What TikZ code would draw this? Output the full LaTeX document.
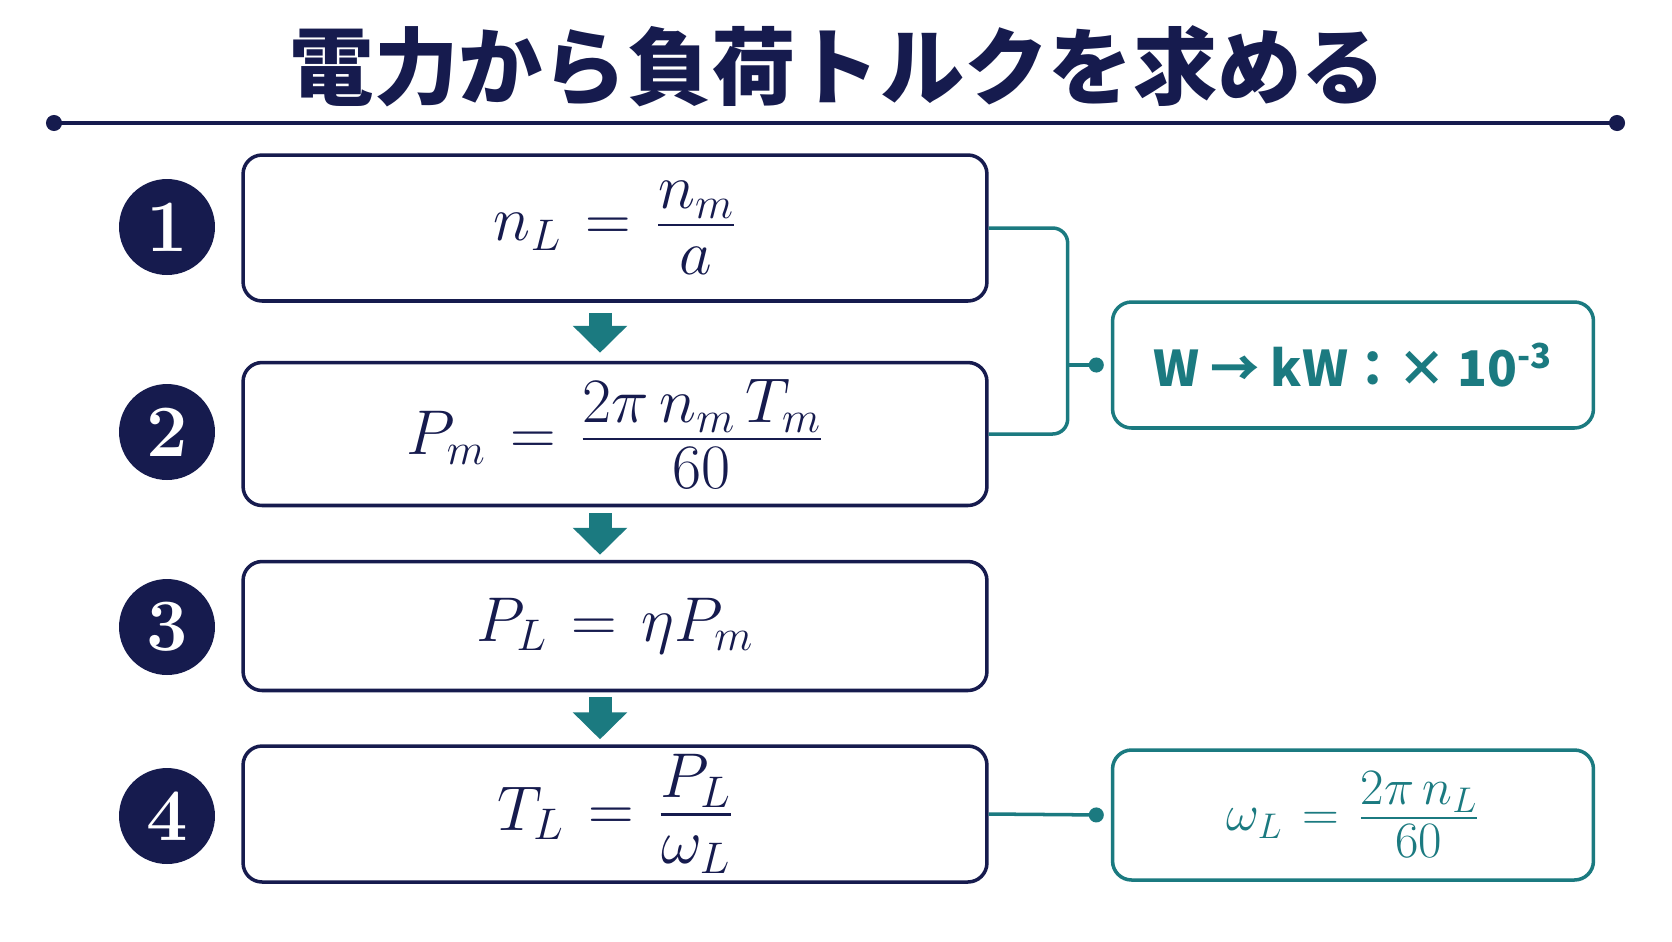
\RequirePackage{fix-cm}
\documentclass[tikz,border=0pt]{standalone}
\usepackage{amsmath, amssymb}
\usepackage{fontspec}
\newfontfamily\cjk{Noto Sans CJK JP}
\usepackage{tikz}
\usetikzlibrary{arrows.meta, positioning, calc}
\definecolor{navy}{HTML}{161B4E}
\definecolor{tealc}{HTML}{1B7A80}
\thickmuskip=7mu plus 3mu
\newcommand{\fr}[2]{\frac{\textstyle #1\rule[-0.2em]{0pt}{0.2em}}{\textstyle\rule{0pt}{0.72em}#2}}

\begin{document}
\begin{tikzpicture}[x=0.02cm, y=-0.02cm,
        paso/.style={rectangle, rounded corners=0.38cm, draw=navy, line width=2pt, fill=white, minimum width=14.88cm, inner sep=0pt, text=navy, font=\fontsize{36}{43}\selectfont},
        extra/.style={rectangle, rounded corners=0.38cm, draw=tealc, line width=2pt, fill=white, minimum width=9.62cm, inner sep=0pt, text=tealc},
        numero/.style={circle, fill=navy, text=white, minimum size=1.92cm, inner sep=0pt, font=\fontsize{42}{50}\selectfont\bfseries},
        flecha/.style={draw=tealc, line width=0.46cm, -{Triangle[width=1.06cm, length=0.54cm]}},
        enlace/.style={draw=tealc, line width=2pt}]
        \useasboundingbox (0,0) rectangle (1672,941);
        % titulo
        \node[text=navy, font=\cjk\fontsize{48}{56}\selectfont\bfseries] (titulo) at (838,66) {電力から負荷トルクを求める};
        \coordinate (li) at (46,123);
        \coordinate (ld) at (1625,123);
        \draw[navy, line width=2.4pt, {Circle[length=0.32cm]}-{Circle[length=0.32cm]}] (li) -- (ld);
        % pasos
        \node[paso, minimum height=2.92cm] (p1) at (615,228) {$n_L = \fr{n_m}{a}$};
        \node[paso, minimum height=2.86cm] (p2) at (615,434) {$P_m = \fr{2\pi\, n_m\, T_m}{60}$};
        \node[paso, minimum height=2.58cm] (p3) at (615,626) {$P_L = \eta P_m$};
        \node[paso, minimum height=2.72cm] (p4) at (615,814) {$T_L = \fr{P_L}{\omega_L}$};
        \node[numero] (n1) at (167,227) {1};
        \node[numero] (n2) at (167,432) {2};
        \node[numero] (n3) at (167,627) {3};
        \node[numero] (n4) at (167,816) {4};
        % flechas
        \draw[flecha] ([xshift=-0.3cm, yshift=-0.2cm]p1.south) -- ([xshift=-0.3cm, yshift=0.16cm]p2.north);
        \draw[flecha] ([xshift=-0.3cm, yshift=-0.12cm]p2.south) -- ([xshift=-0.3cm, yshift=0.1cm]p3.north);
        \draw[flecha] ([xshift=-0.3cm, yshift=-0.1cm]p3.south) -- ([xshift=-0.3cm, yshift=0.1cm]p4.north);
        % notas
        \node[extra, minimum height=2.52cm, font=\cjk\fontsize{28}{34}\selectfont\bfseries] (conv) at (1353,365) {W → kW：× 10\textsuperscript{-3}};
        \node[extra, minimum height=2.6cm, font=\fontsize{29}{35}\selectfont] (omega) at (1353,815) {$\omega_L = \fr{2\pi\, n_L}{60}$};
        \coordinate (brk) at ([xshift=1.58cm]p1.east);
        \draw[enlace, rounded corners=0.3cm] (p1.east) -- (brk) |- (p2.east);
        \draw[enlace, -{Circle[length=0.3cm]}] (brk |- conv.west) -- ([xshift=-0.14cm]conv.west);
        \draw[enlace, -{Circle[length=0.3cm]}] (p4.east) -- ([xshift=-0.14cm]omega.west);
    \end{tikzpicture}
\end{document}
